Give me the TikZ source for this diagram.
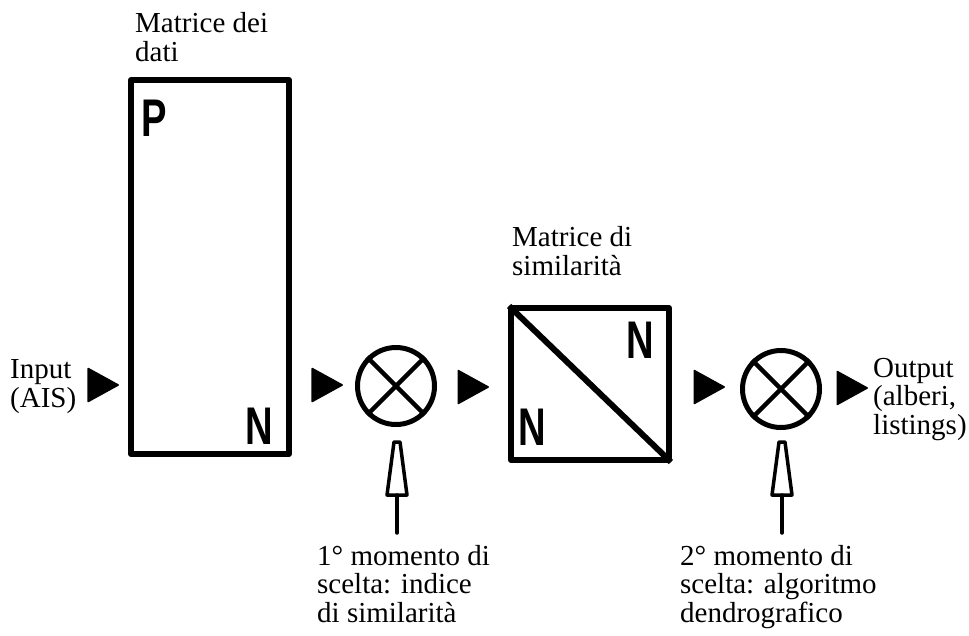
\documentclass[tikz,border=0pt]{standalone}
\usepackage{fontspec}
\setmainfont{Liberation Serif}
\newfontfamily\letfont{Liberation Sans}
\usetikzlibrary{shapes.geometric}
\begin{document}
\begin{tikzpicture}[x=1pt,y=-1pt,
  lbl/.style={anchor=base west, align=left, inner sep=0pt, font=\fontsize{29}{28.5}\selectfont},
  frame/.style={draw, line width=6pt, line join=round, inner sep=0pt},
  letter/.style={inner sep=0pt, font=\letfont\bfseries\fontsize{53}{53}\selectfont, xscale=0.72},
  tri/.style={isosceles triangle, isosceles triangle stretches, fill, draw, line width=1.5pt, line join=round, inner sep=0pt, minimum width=33pt, minimum height=30pt},
  mix/.style={circle, draw, line width=5pt, minimum size=77pt, inner sep=0pt},
  cross/.style={line width=4.5pt},
  ptr/.style={line width=3.5pt, line join=round, line cap=round}
]
\useasboundingbox (0,0) rectangle (969,635);

% data matrix
\node[frame, minimum width=158pt, minimum height=374pt] (dm) at (210,267) {};
\node[letter] (dmP) at (154,118) {P};
\node[letter] (dmN) at (259,426) {N};
\node[lbl] (dmlab) at (135,61) {Matrice dei\\dati};

% similarity matrix
\node[frame, minimum width=158pt, minimum height=152pt] (sm) at (590,384) {};
\draw[line width=6pt, shorten <=1.5pt, shorten >=1.5pt] (sm.north west) -- (sm.south east);
\node[letter] (smN1) at (640,340) {N};
\node[letter] (smN2) at (532,427) {N};
\node[lbl] (smlab) at (512,275) {Matrice di\\similarità};

% flow triangles
\node[tri] (t0) at (98,385) {};
\node[tri] (t1) at (322,385) {};
\node[tri] (t2) at (468,387) {};
\node[tri] (t3) at (704,387) {};
\node[tri] (t4) at (847,388) {};

% mixers
\node[mix] (c1) at (396,386) {};
\draw[cross] (c1.45) -- (c1.225);
\draw[cross] (c1.135) -- (c1.315);
\node[mix] (c2) at (781,389) {};
\draw[cross] (c2.45) -- (c2.225);
\draw[cross] (c2.135) -- (c2.315);

% choice pointers
\coordinate (p1) at (397,533);
\draw[ptr] (p1) -- ++(0,-38);
\draw[ptr] (p1) ++(-10,-38) -- ++(7,-53) -- ++(6,0) -- ++(7,53) -- cycle;
\coordinate (p2) at (782,533);
\draw[ptr] (p2) -- ++(0,-38);
\draw[ptr] (p2) ++(-10,-38) -- ++(7,-53) -- ++(6,0) -- ++(7,53) -- cycle;

% texts
\node[lbl] (inp) at (10,407) {Input\\(AIS)};
\node[lbl] (outp) at (873,434) {Output\\(alberi,\\listings)};
\node[lbl] (m1) at (317,622) {1° momento di\\scelta: indice\\di similarità};
\node[lbl] (m2) at (680,622) {2° momento di\\scelta: algoritmo\\dendrografico};
\end{tikzpicture}
\end{document}
